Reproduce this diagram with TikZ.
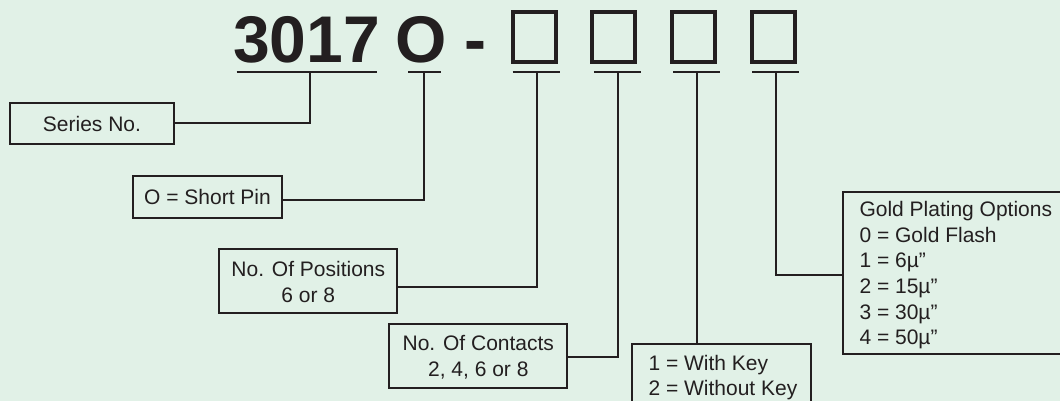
\documentclass[tikz,border=0pt]{standalone}
\usepackage{fontspec}
\setmainfont{Liberation Sans}
\definecolor{bg}{RGB}{225,241,231}
\definecolor{ink}{RGB}{35,31,32}
\tikzset{
  frame/.style={draw=ink, line width=1.8pt, rectangle, inner sep=0pt, outer sep=0pt},
  lbl/.style={text=ink, font=\fontsize{21}{25.6}\selectfont, inner sep=0pt, anchor=base},
  lblw/.style={lbl, anchor=base west},
  big/.style={text=ink, font=\fontsize{66}{70}\selectfont\bfseries, inner sep=0pt, anchor=base},
  sq/.style={draw=ink, line width=4pt, rectangle, minimum width=43pt, minimum height=50pt, inner sep=0pt},
  wire/.style={draw=ink, line width=1.8pt},
}
\begin{document}
\begin{tikzpicture}[x=1pt, y=-1pt]
\fill[bg] (0,0) rectangle (1060,401);
\useasboundingbox (0,0) rectangle (1060,401);

% part number
\node[big] (num) at (306.7,62.5) {3017};
\node[big] (oo) at (421.3,62.5) {O};
\node[big] (dash) at (475,62.5) {-};
\node[sq] (s1) at (534.2,37.3) {};
\node[sq] (s2) at (613.7,37.3) {};
\node[sq] (s3) at (693.7,37.3) {};
\node[sq] (s4) at (773.4,37.3) {};

% underlines
\draw[wire] (236.7,72) -- (376.7,72);
\draw[wire] (408.3,72) -- (441,72);
\draw[wire] (512.7,72) -- (560,72);
\draw[wire] (593.8,72) -- (640.9,72);
\draw[wire] (673.3,72) -- (720.3,72);
\draw[wire] (752,72) -- (799.3,72);
\coordinate (t1) at (310,72);
\coordinate (t2) at (424,72);
\coordinate (t3) at (537.3,72);
\coordinate (t4) at (618,72);
\coordinate (t5) at (697.3,72);
\coordinate (t6) at (776,72);

% boxes
\node[frame, minimum width=163.4pt, minimum height=41.3pt] (series) at (92,123.35) {};
\node[lbl] (seriesT) at (92,131.3) {Series No.};

\node[frame, minimum width=149.6pt, minimum height=41.7pt] (pin) at (207.5,196.85) {};
\node[lbl] (pinT) at (207.5,204.8) {O = Short Pin};

\node[frame, minimum width=178pt, minimum height=64pt] (pos) at (308.3,281.3) {};
\node[lbl] (posT1) at (308.3,276.7) {No. Of Positions};
\node[lbl] (posT2) at (308.3,302.3) {6 or 8};

\node[frame, minimum width=178pt, minimum height=64pt] (con) at (478.3,355.7) {};
\node[lbl] (conT1) at (478.3,350.5) {No. Of Contacts};
\node[lbl] (conT2) at (478.3,376.3) {2, 4, 6 or 8};

\node[frame, minimum width=178.7pt, minimum height=80pt] (key) at (721.3,383.7) {};
\node[lblw] (keyT1) at (648.3,370.8) {1 = With Key};
\node[lblw] (keyT2) at (648.3,395.8) {2 = Without Key};

\node[frame, minimum width=236.7pt, minimum height=162pt] (gold) at (961.7,273) {};
\foreach \t [count=\i from 0] in {Gold Plating Options, 0 = Gold Flash, 1 = 6µ”, 2 = 15µ”, 3 = 30µ”, 4 = 50µ”}
  \node[lblw] (gT\i) at (859.3,216.7+25.6*\i) {\t};

% connectors
\draw[wire] (t1) |- (series.east);
\draw[wire] (t2) |- ([yshift=-3pt]pin.east);
\draw[wire] (t3) |- ([yshift=-5.4pt]pos.east);
\draw[wire] (t4) |- ([yshift=-1pt]con.east);
\draw[wire] (t5) -- (t5 |- key.north);
\draw[wire] (t6) |- ([yshift=-2.3pt]gold.west);
\end{tikzpicture}
\end{document}
